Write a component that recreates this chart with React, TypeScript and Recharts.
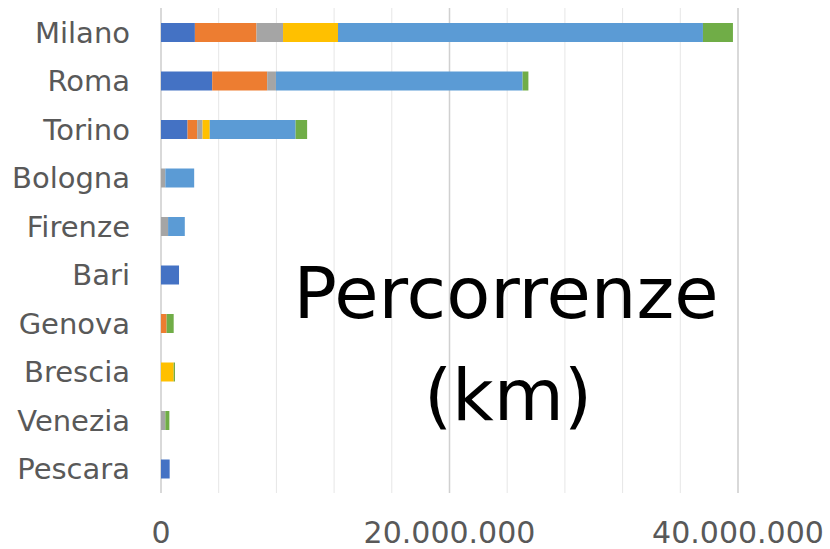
import { BarChart, Bar, XAxis, YAxis, CartesianGrid } from "recharts";

const cities = ["Milano", "Roma", "Torino", "Bologna", "Firenze", "Bari", "Genova", "Brescia", "Venezia", "Pescara"];

// km per series
const serie1 = [2350000, 3550000, 1840000, 0, 0, 1250000, 0, 0, 0, 600000];
const serie2 = [4270000, 3810000, 670000, 0, 0, 0, 390000, 0, 0, 0];
const serie3 = [1840000, 610000, 370000, 300000, 490000, 0, 0, 0, 300000, 0];
const serie4 = [3810000, 0, 500000, 0, 0, 0, 0, 880000, 0, 0];
const serie5 = [25300000, 17100000, 5950000, 2000000, 1160000, 0, 0, 0, 0, 0];
const serie6 = [2080000, 400000, 800000, 0, 0, 0, 490000, 90000, 280000, 0];

const xTicks = [0, 4000000, 8000000, 12000000, 16000000, 20000000, 24000000, 28000000, 32000000, 36000000, 40000000];
const labelledTicks = [0, 20000000, 40000000];

const series = [
  { key: "s1", values: serie1, color: "#4472C4" },
  { key: "s2", values: serie2, color: "#ED7D31" },
  { key: "s3", values: serie3, color: "#A5A5A5" },
  { key: "s4", values: serie4, color: "#FFC000" },
  { key: "s5", values: serie5, color: "#5B9BD5" },
  { key: "s6", values: serie6, color: "#70AD47" },
];

const data = cities.map((city, i) => {
  const row: Record<string, string | number> = { city };
  series.forEach((s) => (row[s.key] = s.values[i]));
  return row;
});

const fmt = (v: number) =>
  labelledTicks.includes(v) ? String(v).replace(/\B(?=(\d{3})+(?!\d))/g, ".") : "";

const font = "'DejaVu Sans', sans-serif";

export default function App() {
  return (
    <div style={{ position: "absolute", left: 0, top: 0, width: 830, height: 549, background: "#fff" }}>
      <BarChart
        width={830}
        height={549}
        data={data}
        layout="vertical"
        margin={{ top: 8, right: 92, bottom: 0, left: 0 }}
        barSize={19}
      >
        <CartesianGrid horizontal={false} stroke="#e6e6e6" />
        <CartesianGrid horizontal={false} verticalValues={labelledTicks} stroke="#d0d0d0" strokeWidth={1.5} />
        <XAxis
          type="number"
          domain={[0, 40000000]}
          ticks={xTicks}
          tickFormatter={fmt}
          axisLine={false}
          tickLine={false}
          tickSize={0}
          tickMargin={29}
          height={56}
          interval={0}
          tick={{ fill: "#595959", fontSize: 30, fontFamily: font }}
        />
        <YAxis
          type="category"
          dataKey="city"
          width={161}
          axisLine={false}
          tickLine={false}
          tickSize={0}
          tickMargin={31}
          interval={0}
          tick={{ fill: "#595959", fontSize: 29, fontFamily: font }}
        />
        {series.map((s) => (
          <Bar key={s.key} dataKey={s.key} stackId="a" fill={s.color} isAnimationActive={false} />
        ))}
      </BarChart>
      <svg
        width={830}
        height={549}
        style={{ position: "absolute", left: 0, top: 0, pointerEvents: "none" }}
      >
        <text x={506} y={318} textAnchor="middle" fontSize={72} fontFamily={font} fill="#000">
          Percorrenze
        </text>
        <text x={508} y={420} textAnchor="middle" fontSize={72} fontFamily={font} fill="#000">
          (km)
        </text>
      </svg>
    </div>
  );
}
